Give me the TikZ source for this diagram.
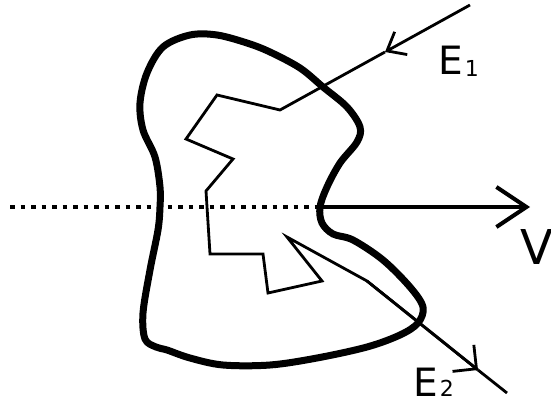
\documentclass[tikz,border=0pt]{standalone}
\usepackage{fontspec}
\setmainfont{DejaVu Sans}
\usetikzlibrary{arrows.meta}
\begin{document}
\begin{tikzpicture}[x=1pt,y=-1pt,
  blob/.style={line width=7pt,line join=round},
  thin/.style={line width=2.8pt,line join=miter},
  lbl/.style={inner sep=0pt,anchor=base west}]
\useasboundingbox (0,0) rectangle (551,403);
% body outline
\draw[blob] plot[smooth cycle,tension=0.55] coordinates {
 (190,35) (217,35) (247,43) (270,52) (300,68) (323,87) (347,107) (360,127)
 (357,142) (340,163) (327,187) (320,207) (322,223) (333,234) (353,240)
 (383,260) (410,287) (423,307) (418,323) (400,335) (367,347) (317,358)
 (270,365) (223,365) (190,358) (167,350) (156,347) (145,339) (143,313)
 (150,270) (158,230) (160,207) (160,187) (155,157) (143,130) (140,103)
 (147,73) (163,47)};
% axis
\coordinate (ax0) at (10,207);
\coordinate (ax1) at (320,207);
\coordinate (ax2) at (530,207);
\draw[line width=4pt,dash pattern=on 4.5pt off 6pt] (ax0) -- (ax1);
\draw[line width=4pt,-{Straight Barb[length=30pt,width=40pt]}] (ax1) -- (ax2);
% path of the particle
\coordinate (e1s) at (470,5);
\coordinate (e1h) at (385,52);
\coordinate (p0) at (280,110);
\coordinate (p1) at (217,95);
\coordinate (p2) at (186,139);
\coordinate (p3) at (233,159);
\coordinate (p4) at (206,191);
\coordinate (p5) at (210,254);
\coordinate (p6) at (263,254);
\coordinate (p7) at (268,293);
\coordinate (p8) at (322,281);
\coordinate (p9) at (287,237);
\coordinate (p10) at (367,281);
\coordinate (e2h) at (478,370);
\coordinate (e2e) at (507,393);
\draw[thin,-{Straight Barb[length=16pt,width=26pt]}] (e1s) -- (e1h);
\draw[thin] (e1h) -- (p0) -- (p1) -- (p2) -- (p3) -- (p4) -- (p5) -- (p6)
  -- (p7) -- (p8) -- (p9) -- (p10) -- (e2h);
\draw[thin,-{Straight Barb[length=17pt,width=34pt]}] (p10) -- (e2h);
\draw[thin] (e2h) -- (e2e);
% labels
\node[lbl] (E1) at (438,75) {\fontsize{39}{39}\selectfont E\hspace{2pt}\raisebox{-2pt}{\fontsize{22}{22}\selectfont 1}};
\node[lbl] (E2) at (413,396) {\fontsize{39}{39}\selectfont E\hspace{2pt}{\fontsize{22}{22}\selectfont 2}};
\node[lbl] (V) at (520,265) {\fontsize{48}{48}\selectfont V};
\end{tikzpicture}
\end{document}
